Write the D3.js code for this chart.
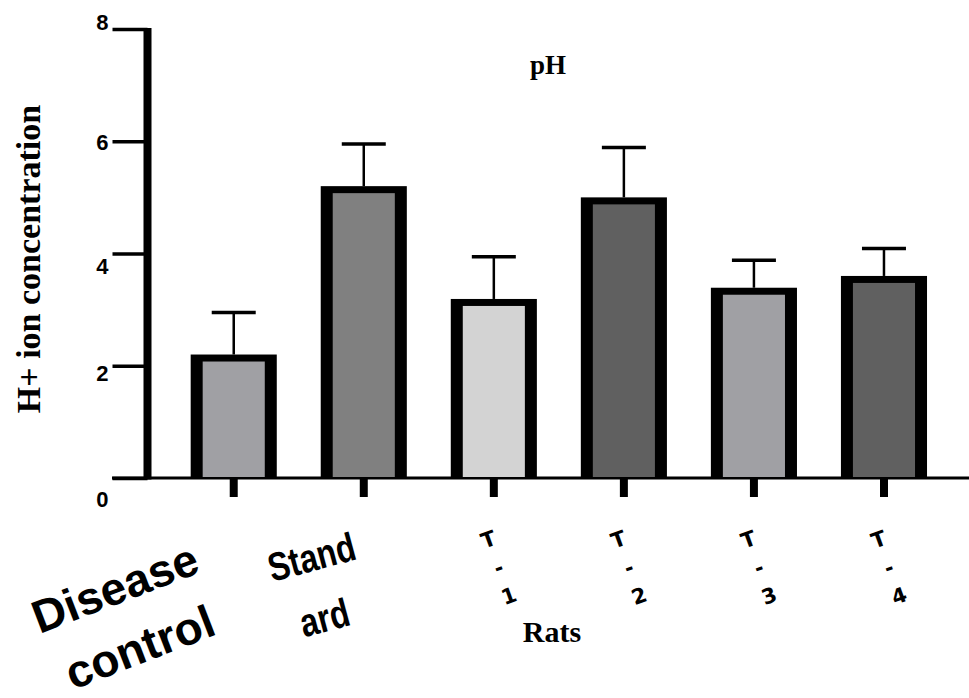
<!DOCTYPE html>
<html>
<head>
<meta charset="utf-8">
<script src="https://cdn.jsdelivr.net/npm/d3@7"></script>
<style>
  body { margin:0; background:#fff; }
  svg { display:block; }
</style>
</head>
<body>
<div id="chart"></div>
<script>
// values (mean bar + upper error cap)
const groups   = ["Disease control", "Standard", "T-1", "T-2", "T-3", "T-4"];
const means    = [2.2, 5.2, 3.19, 5.0, 3.39, 3.6];
const upper    = [2.95, 5.95, 3.94, 5.89, 3.88, 4.09];
const fills    = ["#a0a0a4", "#808080", "#d3d3d3", "#606060", "#a0a0a4", "#606060"];
const yTicks   = [0, 2, 4, 6, 8];

const w = 969, h = 698;
const svg = d3.select("#chart").append("svg").attr("width", w).attr("height", h);

const x = d3.scaleBand().domain(groups).range([168.7, 949]).paddingInner(0.338).paddingOuter(0.169);
const y = d3.scaleLinear().domain([0, 8]).range([478, 29]);

// baseline runs all the way to the right edge
svg.append("line").attr("x1", 112).attr("x2", w).attr("y1", y(0)).attr("y2", y(0))
  .attr("stroke", "#000").attr("stroke-width", 3);

// y axis: thick spine, thin ticks
const gy = svg.append("g").attr("transform", "translate(147.5,0)")
  .call(d3.axisLeft(y).tickValues(yTicks).tickSize(35).tickPadding(4).tickFormat(d3.format("d")));
gy.select(".domain").remove();
gy.selectAll(".tick line").attr("stroke", "#000").attr("stroke-width", 3.5);
// labels in the original sit a bit off their ticks
const nudge = { 0: 20, 2: 7, 4: 12, 6: 0, 8: -8 };
gy.selectAll(".tick text")
  .attr("font-family", "'Liberation Sans', Arial, sans-serif")
  .attr("font-weight", "bold").style("font-size", "22px").attr("fill", "#000")
  .attr("dy", d => (nudge[d] + 8) + "px");
svg.append("line").attr("x1", 147.5).attr("x2", 147.5).attr("y1", y(8) - 1).attr("y2", y(0) + 1.5)
  .attr("stroke", "#000").attr("stroke-width", 8);

// x ticks (short, chunky, pointing down)
svg.selectAll(".xtick").data(groups).enter().append("line")
  .attr("x1", d => x(d) + x.bandwidth() / 2).attr("x2", d => x(d) + x.bandwidth() / 2)
  .attr("y1", y(0)).attr("y2", y(0) + 19)
  .attr("stroke", "#000").attr("stroke-width", 8);

// bars: black outer box, grey fill inset
const data = groups.map((g, i) => ({ g, v: means[i], up: upper[i], fill: fills[i] }));
const bars = svg.selectAll(".bar").data(data).enter().append("g");
bars.append("rect")
  .attr("x", d => x(d.g)).attr("y", d => y(d.v))
  .attr("width", x.bandwidth()).attr("height", d => y(0) - y(d.v))
  .attr("fill", "#000");
bars.append("rect")
  .attr("x", d => x(d.g) + 12).attr("y", d => y(d.v) + 7)
  .attr("width", x.bandwidth() - 24).attr("height", d => y(0) - y(d.v) - 8)
  .attr("fill", d => d.fill);

// upper error bars only
const cx = d => x(d.g) + x.bandwidth() / 2;
bars.append("line").attr("x1", cx).attr("x2", cx)
  .attr("y1", d => y(d.v)).attr("y2", d => y(d.up))
  .attr("stroke", "#000").attr("stroke-width", 2.5);
bars.append("line").attr("x1", d => cx(d) - 22).attr("x2", d => cx(d) + 22)
  .attr("y1", d => y(d.up)).attr("y2", d => y(d.up))
  .attr("stroke", "#000").attr("stroke-width", 3.5);

// titles
svg.append("text").attr("x", 548).attr("y", 74).attr("text-anchor", "middle")
  .attr("font-family", "'Liberation Serif', 'Times New Roman', serif")
  .attr("font-weight", "bold").attr("font-size", 27).text("pH");
svg.append("text").attr("transform", "translate(40,259) rotate(-90)").attr("text-anchor", "middle")
  .attr("font-family", "'Liberation Serif', 'Times New Roman', serif")
  .attr("font-weight", "bold").attr("font-size", 34).attr("fill", "#000").text("H+ ion concentration");
svg.append("text").attr("x", 552).attr("y", 642).attr("text-anchor", "middle")
  .attr("font-family", "'Liberation Serif', 'Times New Roman', serif")
  .attr("font-weight", "bold").attr("font-size", 30).text("Rats");

// category labels - each one was styled differently in the source
const sans = "'Liberation Sans', Arial, sans-serif";
const c0 = x(groups[0]) + x.bandwidth() / 2;
const dc = svg.append("g").attr("transform", `translate(${c0 - 108},616) rotate(-21)`)
  .attr("font-family", sans).attr("font-weight", "bold").attr("font-size", 46).attr("text-anchor", "middle");
dc.append("text").attr("y", -14).text("Disease");
dc.append("text").attr("x", 2).attr("y", 50).text("control");

const c1 = x(groups[1]) + x.bandwidth() / 2;
const st = svg.append("g").attr("transform", `translate(${c1 - 45},584) rotate(-15) scale(0.8,1)`)
  .attr("font-family", sans).attr("font-weight", "bold").attr("font-size", 40).attr("text-anchor", "middle");
st.append("text").attr("y", -14).text("Stand");
st.append("text").attr("x", -4).attr("y", 48).text("ard");

// T-n labels: one character per line, column tilted
groups.slice(2).forEach(g => {
  const c = x(g) + x.bandwidth() / 2;
  const col = svg.append("g").attr("transform", `translate(${c + 5},568) rotate(-20)`)
    .attr("font-family", "'DejaVu Sans', sans-serif").attr("font-weight", "bold")
    .attr("font-size", 21).attr("text-anchor", "middle");
  g.split("").forEach((ch, i) => {
    col.append("text").attr("y", (i - 1) * 30 + 7).text(ch);
  });
});
</script>
</body>
</html>
